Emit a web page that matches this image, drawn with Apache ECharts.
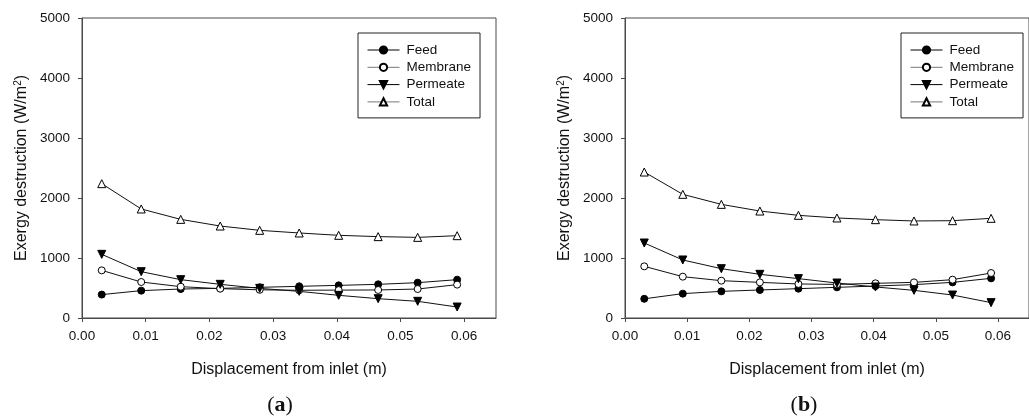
<!DOCTYPE html>
<html><head><meta charset="utf-8">
<script src="https://cdn.jsdelivr.net/npm/echarts@6/dist/echarts.min.js"></script>
<style>html,body{margin:0;padding:0;background:#fff}#c{width:1029px;height:419px}</style>
</head><body><div id="c"></div>
<script>
// ---- data ----
const xPositions = [0.0031, 0.0093, 0.0155, 0.0217, 0.0279, 0.0341, 0.0403, 0.0465, 0.0527, 0.0589];
const xTicks = [0, 0.01, 0.02, 0.03, 0.04, 0.05, 0.06];
const yTicks = [0, 1000, 2000, 3000, 4000, 5000];
const seriesNames = ['Feed', 'Membrane', 'Permeate', 'Total'];
const panelLabels = ['a', 'b'];
const xAxisTitle = 'Displacement from inlet (m)';
const yAxisTitle = 'Exergy destruction (W/m{sup|2})';

const feedA     = [390, 456, 483, 494, 511, 528, 544, 561, 589, 639];
const membraneA = [794, 600, 522, 489, 470, 462, 465, 467, 483, 556];
const permeateA = [1061, 772, 639, 561, 494, 444, 378, 322, 278, 183];
const totalA    = [2239, 1817, 1644, 1533, 1461, 1417, 1378, 1356, 1344, 1372];

const feedB     = [320, 406, 444, 467, 489, 511, 533, 556, 594, 661];
const membraneB = [861, 689, 622, 594, 567, 560, 578, 594, 639, 750];
const permeateB = [1250, 967, 822, 728, 656, 583, 517, 461, 383, 256];
const totalB    = [2433, 2061, 1894, 1783, 1711, 1667, 1639, 1617, 1622, 1661];

const panels = [
  { Feed: feedA, Membrane: membraneA, Permeate: permeateA, Total: totalA },
  { Feed: feedB, Membrane: membraneB, Permeate: permeateB, Total: totalB }
];

// ---- styles ----
const FONT = 'Liberation Sans, Arial, sans-serif';
const AXIS_COLOR = '#4a4a4a';
const markerStyles = {
  Feed:     { symbol: 'circle', symbolSize: 7, symbolRotate: 0, itemStyle: { color: '#000', borderColor: '#000', borderWidth: 1 } },
  Membrane: { symbol: 'circle', symbolSize: 7, symbolRotate: 0, itemStyle: { color: '#fff', borderColor: '#000', borderWidth: 1 } },
  Permeate: { symbol: 'triangle', symbolSize: 8, symbolRotate: 180, itemStyle: { color: '#000', borderColor: '#000', borderWidth: 1 } },
  Total:    { symbol: 'triangle', symbolSize: 8, symbolRotate: 0, itemStyle: { color: '#fff', borderColor: '#000', borderWidth: 1 } }
};
const legendLineColors = { Feed: '#000', Membrane: '#777', Permeate: '#000', Total: '#777' };

const gridPos = [
  { left: 82, top: 18, width: 414, height: 300 },
  { left: 625, top: 18, width: 414, height: 300 }
];
const legendPos = [ { left: 358, top: 33 }, { left: 901, top: 33 } ];
const panelLabelPos = [ [280, 405], [804, 405] ];

const grids = gridPos.map(g => Object.assign({ show: true, borderColor: AXIS_COLOR, borderWidth: 1, backgroundColor: 'transparent' }, g));

const xAxes = gridPos.map((g, i) => ({
  type: 'value', gridIndex: i, min: 0, max: 0.065,
  name: xAxisTitle, nameLocation: 'middle', nameGap: 44,
  nameTextStyle: { fontFamily: FONT, fontSize: 16, color: '#111' },
  axisLine: { show: true, onZero: false, lineStyle: { color: AXIS_COLOR, width: 1 } },
  axisTick: { show: true, inside: false, length: 4, customValues: xTicks, lineStyle: { color: AXIS_COLOR } },
  axisLabel: { customValues: xTicks, margin: 11, fontFamily: FONT, fontSize: 13.5, color: '#111', formatter: v => v.toFixed(2) },
  splitLine: { show: false }
}));

const yAxes = gridPos.map((g, i) => ({
  type: 'value', gridIndex: i, min: 0, max: 5000, interval: 1000,
  name: yAxisTitle, nameLocation: 'middle', nameGap: 51, nameRotate: 90,
  nameTextStyle: { fontFamily: FONT, fontSize: 16, color: '#111', lineHeight: 18,
    rich: { sup: { fontFamily: FONT, fontSize: 10, color: '#111', verticalAlign: 'top', lineHeight: 10 } } },
  axisLine: { show: true, lineStyle: { color: AXIS_COLOR, width: 1 } },
  axisTick: { show: true, inside: false, length: 4, customValues: yTicks, lineStyle: { color: AXIS_COLOR } },
  axisLabel: { customValues: yTicks, margin: 12, fontFamily: FONT, fontSize: 13.5, color: '#111', formatter: v => String(v) },
  splitLine: { show: false }
}));

const series = [];
panels.forEach((p, i) => {
  seriesNames.forEach(name => {
    const m = markerStyles[name];
    series.push({
      type: 'line', name: name, xAxisIndex: i, yAxisIndex: i,
      data: xPositions.map((x, k) => [x, p[name][k]]),
      symbol: m.symbol, symbolSize: m.symbolSize, symbolRotate: m.symbolRotate,
      showSymbol: true, showAllSymbol: true,
      itemStyle: m.itemStyle,
      lineStyle: { color: '#111', width: 1 },
      emphasis: { disabled: true },
      animation: false
    });
  });
});

const legends = legendPos.map(lp => ({
  left: lp.left, top: lp.top, orient: 'vertical',
  padding: [10, 9, 9, 9], itemWidth: 32, itemHeight: 9, itemGap: 3.3,
  borderColor: '#222', borderWidth: 1, backgroundColor: '#fff',
  selectedMode: false,
  textStyle: { fontFamily: FONT, fontSize: 13.5, color: '#111', lineHeight: 14, padding: [0, 0, 0, 2] },
  data: seriesNames.map(n => ({ name: n, lineStyle: { color: legendLineColors[n], width: 1 } }))
}));

const graphics = panelLabels.map((t, i) => ({
  type: 'text', x: panelLabelPos[i][0], y: panelLabelPos[i][1],
  style: {
    text: '{p|(}{b|' + t + '}{p|)}',
    align: 'center', verticalAlign: 'middle',
    rich: {
      p: { fontFamily: 'Liberation Serif, serif', fontSize: 22, fill: '#111' },
      b: { fontFamily: 'Liberation Serif, serif', fontSize: 22, fontWeight: 'bold', fill: '#111' }
    }
  }
}));

const chart = echarts.init(document.getElementById('c'), null, { renderer: 'canvas' });
chart.setOption({
  animation: false,
  backgroundColor: '#fff',
  grid: grids,
  xAxis: xAxes,
  yAxis: yAxes,
  legend: legends,
  series: series,
  graphic: graphics
});
</script>
</body></html>
